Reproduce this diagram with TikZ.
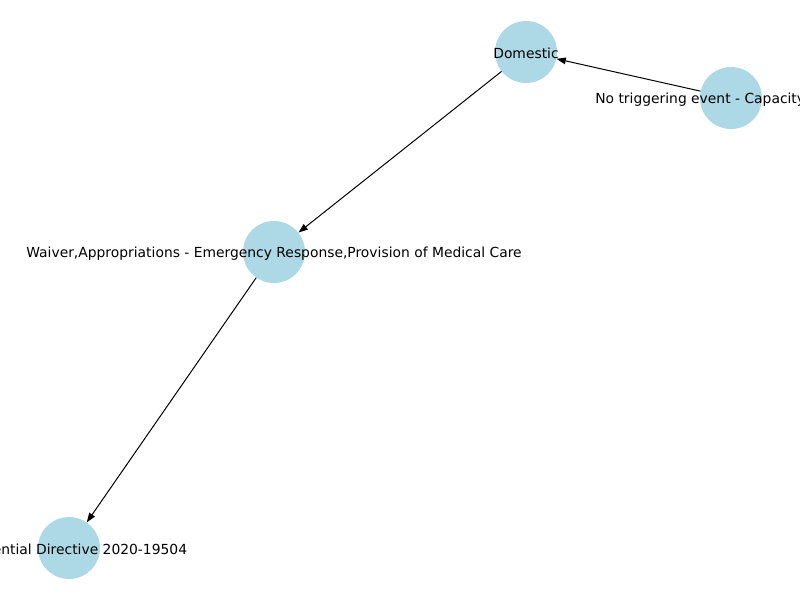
\documentclass[tikz,border=0pt]{standalone}
\usepackage{fontspec}
\setmainfont{DejaVu Sans}
\usetikzlibrary{arrows.meta}
\definecolor{NodeBlue}{HTML}{ADD8E6}
\tikzset{
    vertex/.style = {circle, fill=NodeBlue, draw=none, minimum size=46.5pt, inner sep=0pt},
    lbl/.style = {inner sep=0pt, yshift=-1.2pt, font=\fontsize{10.4}{12}\selectfont},
    edge/.style = {draw, -{Stealth[length=7pt,width=5pt,inset=0pt]}, line width=0.75pt}
}

\begin{document}
\begin{tikzpicture}[x=0.75pt, y=-0.75pt]
        \useasboundingbox (0,0) rectangle (800,600);
        \clip (0,0) rectangle (800,600);
        % nodes
        \node [vertex] (dom) at (526,52) {};
        \node [vertex] (notrig) at (731,98) {};
        \node [vertex] (waiver) at (274,252) {};
        \node [vertex] (pres) at (69,548) {};
        % edges
        \draw [edge] (notrig) -- (dom);
        \draw [edge] (dom) -- (waiver);
        \draw [edge] (waiver) -- (pres);
        % labels
        \node [lbl] at (dom) {Domestic};
        \node [lbl, anchor=west] at (595,98) {No triggering event - Capacity};
        \node [lbl] at (waiver) {Waiver,Appropriations - Emergency Response,Provision of Medical Care};
        \node [lbl] at (pres) {Presidential Directive 2020-19504};
\end{tikzpicture}
\end{document}
